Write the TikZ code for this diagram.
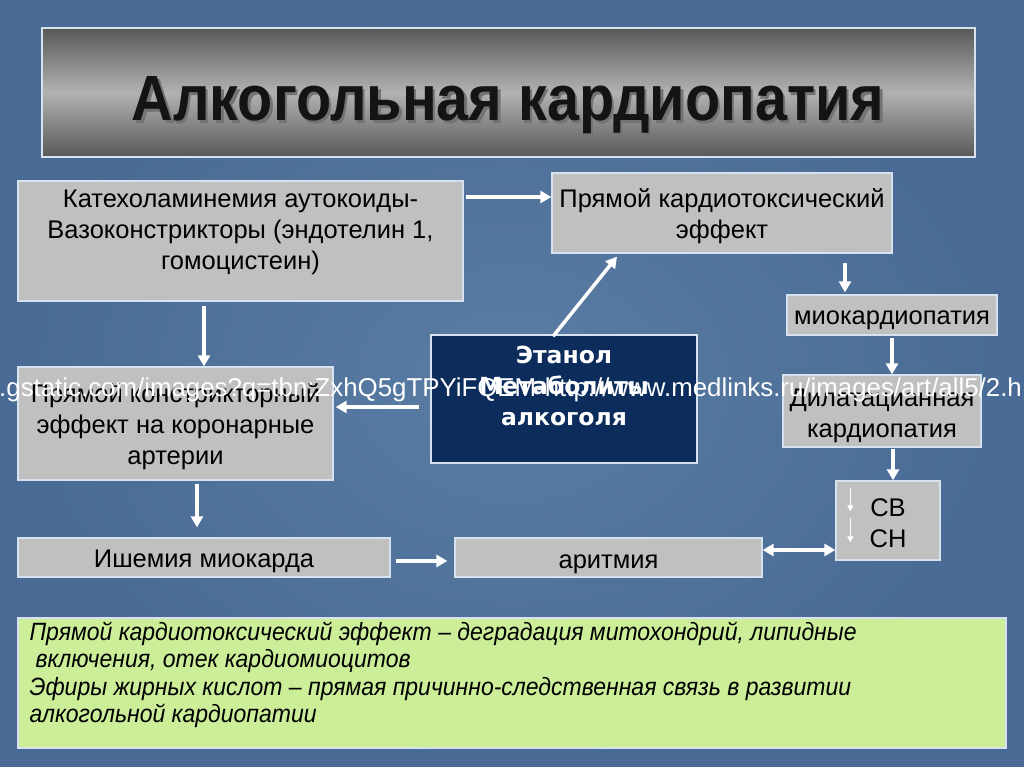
\documentclass[tikz,border=0pt]{standalone}
\usepackage{fontspec}
\setmainfont{Liberation Sans}
\newfontfamily\titlefont[FakeStretch=0.9]{Liberation Sans}
\newfontfamily\narrowfont[FakeStretch=0.92]{Liberation Sans}
\newfontfamily\widefont{DejaVu Sans}
\usetikzlibrary{arrows.meta}
\definecolor{bg}{RGB}{90,125,165}
\definecolor{bgdark}{RGB}{72,106,148}
\definecolor{boxgray}{RGB}{192,192,192}
\definecolor{boxedge}{RGB}{214,226,238}
\definecolor{navy}{RGB}{12,44,92}
\definecolor{lgreen}{RGB}{204,238,153}
\definecolor{tdark}{RGB}{88,88,88}
\definecolor{tlight}{RGB}{178,178,178}
\begin{document}
\begin{tikzpicture}[x=1pt,y=-1pt,
  box/.style={draw=boxedge, line width=1.3pt, fill=boxgray, inner sep=0pt},
  txt/.style={font=\fontsize{25.5}{31}\selectfont, align=center, text=black, inner sep=0pt},
  arr/.style={white, line width=3.5pt, -{Triangle[length=11pt,width=12pt]}},
  thinarr/.style={white, line width=1.2pt, -{Triangle[length=6pt,width=6pt]}},
]
\shade[inner color=bg, outer color=bgdark] (0,0) rectangle (1024,767);
\useasboundingbox (0,0) rectangle (1024,767);

% title
\node[draw=boxedge, line width=1.3pt, minimum width=933pt, minimum height=129pt,
      top color=tdark, bottom color=tdark, middle color=tlight, inner sep=0pt] (T) at (508.5,92.5) {};
\node[anchor=base, text=black!55, font=\titlefont\bfseries\fontsize{64}{70}\selectfont] (Ts) at (510.5,123.5) {Алкогольная кардиопатия};
\node[anchor=base, text=black!92, font=\titlefont\bfseries\fontsize{64}{70}\selectfont] (Tt) at (508,121) {Алкогольная кардиопатия};

% boxes
\node[box, minimum width=445pt, minimum height=120pt] (A) at (240.5,241) {};
\node[txt] (At) at ([yshift=9pt]A.center) {Катехоламинемия аутокоиды-\\Вазоконстрикторы (эндотелин 1,\\гомоцистеин)};
\node[box, minimum width=340pt, minimum height=80pt] (B) at (722,213) {};
\node[txt] (Bt) at ([yshift=-3pt]B.center) {Прямой кардиотоксический\\эффект};
\node[box, minimum width=210pt, minimum height=40pt] (C) at (892,315) {};
\node[txt] (Ct) at ([yshift=-5pt]C.center) {миокардиопатия};
\node[box, fill=navy, minimum width=266pt, minimum height=128pt] (D) at (564,399) {};
\node[txt, text=white, font=\widefont\bfseries\fontsize{23.5}{31}\selectfont] (Dt) at ([yshift=13pt]D.center) {Этанол\\Метаболиты\\алкоголя};
\node[box, minimum width=315pt, minimum height=113pt] (E) at (175.5,423.5) {};
\node[txt] (Et) at ([yshift=-3pt]E.center) {Прямой констрикторный\\эффект на коронарные\\артерии};
\node[box, minimum width=198pt, minimum height=72pt] (F) at (882,411) {};
\node[txt] (Ft) at ([yshift=-5pt]F.center) {Дилатацианная\\кардиопатия};
\node[box, minimum width=104pt, minimum height=79pt] (G) at (888,520.5) {};
\node[txt] (Gt) at ([yshift=-3pt]G.center) {СВ\\СН};
\node[box, minimum width=372pt, minimum height=39pt] (H) at (204,557.5) {};
\node[txt] (Ht) at ([yshift=-4pt]H.center) {Ишемия миокарда};
\node[box, minimum width=307pt, minimum height=39pt] (I) at (608.5,557.5) {};
\node[txt] (It) at ([yshift=-7pt]I.center) {аритмия};

% overlay text
\node[anchor=base west, text=white, inner sep=0pt, font=\fontsize{25.85}{30}\selectfont] (url) at (-1,396) {.gstatic.com/images?q=tbn:ZxhQ5gTPYiFQEM-http://www.medlinks.ru/images/art/all5/2.h};

% green box
\node[draw=boxedge, line width=1.3pt, fill=lgreen, minimum width=988pt, minimum height=130pt, inner sep=0pt] (K) at (512,683) {};
\node[anchor=north west, align=left, inner sep=0pt, font=\narrowfont\itshape\fontsize{25}{27.5}\selectfont] (Kt) at ([xshift=12pt,yshift=-4pt]K.north west)
 {Прямой кардиотоксический эффект – деградация митохондрий, липидные\\\hspace*{6pt}включения, отек кардиомиоцитов\\Эфиры жирных кислот – прямая причинно-следственная связь в развитии\\алкогольной кардиопатии};

% arrows
\coordinate (a1) at ([yshift=44pt]A.east);
\draw[arr] ([xshift=2pt]a1) -- (a1 -| B.west);
\draw[arr] ([xshift=-11pt,yshift=-2pt]D.north) -- ([xshift=-105pt,yshift=-3pt]B.south);
\coordinate (a3) at ([xshift=-36.5pt,yshift=-4pt]A.south);
\draw[arr] (a3) -- (a3 |- E.north);
\coordinate (d4) at ([xshift=-11pt,yshift=-8pt]D.west);
\draw[arr] (d4) -- ([xshift=2pt]d4 -| E.east);
\coordinate (b5) at ([xshift=123pt,yshift=-9pt]B.south);
\draw[arr] (b5) -- ([yshift=2pt]b5 |- C.north);
\coordinate (c6) at ([yshift=-2pt]C.south);
\draw[arr] (c6) -- (c6 |- F.north);
\coordinate (f7) at ([xshift=11pt,yshift=-1pt]F.south);
\draw[arr] (f7) -- (f7 |- G.north);
\coordinate (e8) at ([xshift=21.5pt,yshift=-3pt]E.south);
\draw[arr] (e8) -- ([yshift=10pt]e8 |- H.north);
\coordinate (h9) at ([xshift=5pt,yshift=-3.5pt]H.east);
\draw[arr] (h9) -- ([xshift=-7pt]h9 -| I.west);
\coordinate (i10) at ([yshift=7.5pt]I.east);
\draw[white, line width=3.5pt, {Triangle[length=11pt,width=12pt]}-{Triangle[length=11pt,width=12pt]}] (i10) -- (i10 -| G.west);

% small arrows inside G
\coordinate (g1) at ([xshift=15pt,yshift=-8pt]G.north west);
\coordinate (g2) at ([xshift=15pt,yshift=-31pt]G.north west);
\coordinate (g3) at ([xshift=15pt,yshift=-38pt]G.north west);
\coordinate (g4) at ([xshift=15pt,yshift=-62pt]G.north west);
\draw[thinarr] (g1) -- (g2);
\draw[thinarr] (g3) -- (g4);
\end{tikzpicture}
\end{document}
